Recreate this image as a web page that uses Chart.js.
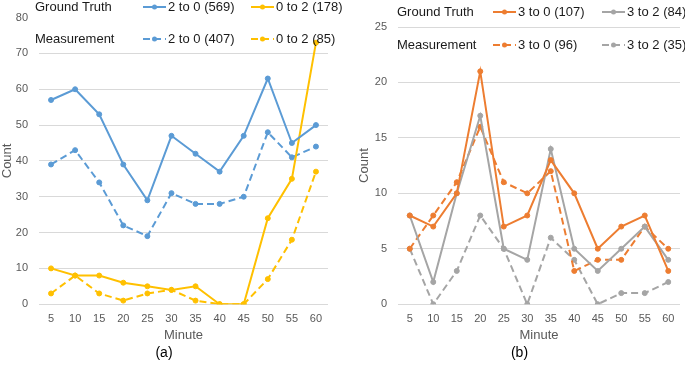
<!DOCTYPE html>
<html>
<head>
<meta charset="utf-8">
<script src="https://cdn.jsdelivr.net/npm/chart.js@4.4.0/dist/chart.umd.min.js"></script>
<style>
  body { margin: 0; background: #fff; }
  .wrap { position: absolute; top: 0; height: 365px; }
  #wrap_a { left: 0; width: 342px; }
  #wrap_b { left: 342px; width: 343px; }
</style>
</head>
<body>
<div class="wrap" id="wrap_a"><canvas id="chart_a"></canvas></div>
<div class="wrap" id="wrap_b"><canvas id="chart_b"></canvas></div>
<script>
// DATA
const minutes = ['5', '10', '15', '20', '25', '30', '35', '40', '45', '50', '55', '60'];
const row_labels = ['Ground Truth', 'Measurement'];

// (a)
const gt_2_to_0 = [57, 60, 53, 39, 29, 47, 42, 37, 47, 63, 45, 50];
const gt_0_to_2 = [10, 8, 8, 6, 5, 4, 5, 0, 0, 24, 35, 73];
const ms_2_to_0 = [39, 43, 34, 22, 19, 31, 28, 28, 30, 48, 41, 44];
const ms_0_to_2 = [3, 8, 3, 1, 3, 4, 1, 0, 0, 7, 18, 37];

// (b)
const gt_3_to_0 = [8, 7, 10, 21, 7, 8, 13, 10, 5, 7, 8, 3];
const gt_3_to_2 = [8, 2, 10, 17, 5, 4, 14, 5, 3, 5, 7, 4];
const ms_3_to_0 = [5, 8, 11, 16, 11, 10, 12, 3, 4, 4, 7, 5];
const ms_3_to_2 = [5, 0, 3, 8, 5, 0, 6, 4, 0, 1, 1, 2];

const BLUE = '#5b9bd5', GOLD = '#ffc000', ORANGE = '#ed7d31', GREY = '#a5a5a5';
const TICK_COLOR = '#595959';
const DASH = [7, 4];

Chart.defaults.font.family = "'Liberation Sans', Arial, sans-serif";

function makeSet(label, data, color, dashed) {
  return {
    label: label,
    data: data,
    borderColor: color,
    backgroundColor: color,
    borderWidth: 2,
    borderDash: dashed ? DASH : [],
    pointRadius: 2.5,
    pointBorderWidth: 1,
    pointBackgroundColor: color,
    pointBorderColor: color,
    tension: 0,
    fill: false
  };
}

// LEGEND drawn as a grid: rows = Ground Truth / Measurement, cols = series
const gridLegend = {
  id: 'gridLegend',
  afterDraw(chart, args, opts) {
    const c = chart.ctx;
    c.save();
    c.font = "13px 'Liberation Sans', Arial, sans-serif";
    c.textBaseline = 'middle';
    c.fillStyle = '#1a1a1a';
    opts.rows.forEach((y, r) => c.fillText(row_labels[r], opts.labelX, y));
    chart.data.datasets.forEach((ds, i) => {
      const r = Math.floor(i / 2), col = i % 2;
      const y = opts.rows[r], x = opts.cols[col];
      c.strokeStyle = ds.borderColor;
      c.lineWidth = 2;
      c.setLineDash(ds.borderDash);
      c.beginPath();
      c.moveTo(x, y);
      c.lineTo(x + opts.sample, y);
      c.stroke();
      c.setLineDash([]);
      c.fillStyle = ds.borderColor;
      c.beginPath();
      c.arc(x + opts.sample / 2, y, 2.5, 0, Math.PI * 2);
      c.fill();
      c.fillStyle = '#1a1a1a';
      c.fillText(ds.label, x + opts.sample + 2, y);
    });
    c.restore();
  }
};

function makeChart(id, datasets, yMax, yStep, pad, yWidth, legend, caption, hideTop) {
  return new Chart(document.getElementById(id), {
    type: 'line',
    data: { labels: minutes, datasets: datasets },
    plugins: [gridLegend],
    options: {
      responsive: true,
      maintainAspectRatio: false,
      animation: false,
      layout: { padding: pad },
      plugins: {
        legend: { display: false },
        tooltip: { enabled: false },
        title: {
          display: true,
          position: 'bottom',
          text: caption,
          color: '#000',
          font: { size: 14, weight: 'normal' },
          padding: { top: 2, bottom: 3 }
        },
        gridLegend: legend
      },
      scales: {
        x: {
          offset: true,
          grid: { display: false, drawTicks: false },
          border: { display: false },
          ticks: { color: TICK_COLOR, font: { size: 11 }, padding: 8, maxRotation: 0 },
          title: { display: true, text: 'Minute', color: TICK_COLOR, font: { size: 13 }, padding: 0 },
          afterFit(s) { s.height = 39; }
        },
        y: {
          min: 0,
          max: yMax,
          grid: {
            drawTicks: false,
            color: ctx => (hideTop && ctx.tick && ctx.tick.value === yMax) ? 'rgba(0,0,0,0)' : '#d9d9d9'
          },
          border: { display: false },
          ticks: { stepSize: yStep, color: TICK_COLOR, font: { size: 11 }, padding: 11 },
          title: { display: true, text: 'Count', color: TICK_COLOR, font: { size: 13 }, padding: 0 },
          afterFit(s) { s.width = yWidth; }
        }
      }
    }
  });
}

makeChart('chart_a', [
  makeSet('2 to 0 (569)', gt_2_to_0, BLUE, false),
  makeSet('0 to 2 (178)', gt_0_to_2, GOLD, false),
  makeSet('2 to 0 (407)', ms_2_to_0, BLUE, true),
  makeSet('0 to 2 (85)', ms_0_to_2, GOLD, true)
], 80, 10, { left: 0, right: 14, top: 17, bottom: 0 }, 39,
  { labelX: 35, rows: [7, 39], cols: [143, 251], sample: 23 }, '(a)', true);

makeChart('chart_b', [
  makeSet('3 to 0 (107)', gt_3_to_0, ORANGE, false),
  makeSet('3 to 2 (84)', gt_3_to_2, GREY, false),
  makeSet('3 to 0 (96)', ms_3_to_0, ORANGE, true),
  makeSet('3 to 2 (35)', ms_3_to_2, GREY, true)
], 25, 5, { left: 15, right: 3, top: 27, bottom: 0 }, 41,
  { labelX: 55, rows: [12, 45], cols: [151, 260], sample: 23 }, '(b)', false);
</script>
</body>
</html>
